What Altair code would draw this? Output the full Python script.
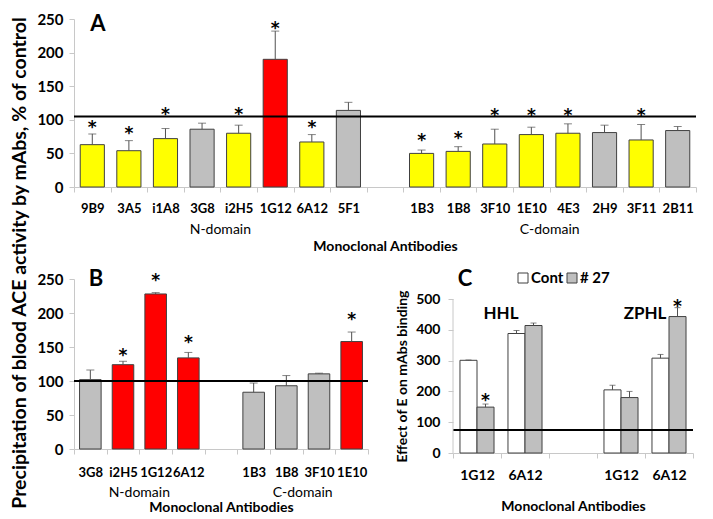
import altair as alt
import pandas as pd

FONT = "Lato"
STAR_FONT = "DejaVu Sans"
AXIS_GREY = "#C8C8C8"
BAR_STROKE = "#404040"

# ---------------- Panel A data ----------------
a_names = ["9B9", "3A5", "i1A8", "3G8", "i2H5", "1G12", "6A12", "5F1",
           "1B3", "1B8", "3F10", "1E10", "4E3", "2H9", "3F11", "2B11"]
a_values = [63, 54, 72, 86, 80, 190, 67, 114, 50, 53, 64, 78, 80, 81, 70, 84]
a_upper = [79, 69, 87, 95, 92, 232, 78, 126, 55, 60, 86, 89, 94, 92, 93, 90]
a_fill = ["Y", "Y", "Y", "G", "Y", "R", "Y", "G", "Y", "Y", "Y", "Y", "Y", "G", "Y", "G"]
a_star = [96, 88, 116, None, 116, 244, 96, None, 77, 80, 115, 115, 115, None, 115, None]
a_ref = 105
a_groups = ["N-domain", "C-domain"]
a_group_anchor = ["i2H5", "4E3"]

# ---------------- Panel B data ----------------
b_names = ["3G8", "i2H5", "1G12", "6A12", "1B3", "1B8", "3F10", "1E10"]
b_values = [102, 124, 228, 134, 83.5, 93, 110.5, 158]
b_upper = [116, 129, 230, 142, 97, 108, 111.5, 172]
b_fill = ["G", "R", "R", "R", "G", "G", "G", "R"]
b_star = [None, 145, 256, 165, None, None, None, 199]
b_ref = 100
b_groups = ["N-domain", "C-domain"]
b_group_anchor = ["1G12", "3F10"]

# ---------------- Panel C data ----------------
c_substrate = ["HHL", "ZPHL"]
c_mabs = ["1G12", "6A12"]
c_series = ["Cont", "# 27"]
c_cont = [301, 388, 205, 308]
c_cont_upper = [302, 398, 220, 320]
c_27 = [149, 414, 180, 443]
c_27_upper = [159, 422, 200, 472]
c_27_star = [187, None, None, 492]
c_ref = 75
c_series_colors = ["#FFFFFF", "#BFBFBF"]

fill_map = {"Y": "#FFFF00", "G": "#BFBFBF", "R": "#FF0000"}

LABEL_EXPR = "datum.value == 'gap' ? '' : datum.value"


def bar_panel(names, values, upper, fills, stars, ref, groups, anchors,
              n_left, width, height, letter, letter_xy, group_dy, label_pad, title_pad):
    dom = names[:n_left] + ["gap"] + names[n_left:]
    df = pd.DataFrame({"name": names, "value": values, "upper": upper,
                       "fill": [fill_map[f] for f in fills]})
    sdf = pd.DataFrame({"name": names, "star": stars}).dropna()
    gdf = pd.DataFrame({"name": anchors, "text": groups})
    xs = alt.Scale(domain=dom, paddingInner=0, paddingOuter=0)
    ys = alt.Scale(domain=[0, 250])
    xaxis = alt.Axis(labelExpr=LABEL_EXPR, labelAngle=0, tickBand="extent",
                     domainColor=AXIS_GREY, tickColor=AXIS_GREY, tickSize=5,
                     labelFont=FONT, labelFontSize=13, labelFontWeight="bold",
                     labelPadding=label_pad, labelOverlap=False, titleFont=FONT,
                     titleFontSize=14, titleFontWeight="bold", titlePadding=title_pad)
    yaxis = alt.Axis(values=[0, 50, 100, 150, 200, 250], grid=False,
                     domainColor=AXIS_GREY, tickColor=AXIS_GREY, tickSize=5,
                     labelFont=FONT, labelFontSize=15, labelFontWeight="bold",
                     labelPadding=6)
    XT = "Monoclonal Antibodies"

    def X(**kw):
        return alt.X("name:N", scale=xs, sort=dom, title=XT, axis=xaxis, **kw)

    def Y(field):
        return alt.Y(field, scale=ys, title=None, axis=yaxis)

    base = alt.Chart(df)
    bars = base.mark_bar(stroke=BAR_STROKE, strokeWidth=1,
                         width=alt.RelativeBandSize(0.66)).encode(
        x=X(), y=Y("value:Q"), fill=alt.Fill("fill:N", scale=None))
    err = base.mark_rule(color="#505050", strokeWidth=1).encode(
        x=X(), y=Y("value:Q"), y2="upper:Q")
    cap = base.mark_tick(color="#505050", thickness=1, size=8, orient="horizontal").encode(
        x=X(), y=Y("upper:Q"))
    star = alt.Chart(sdf).mark_text(text="*", font=STAR_FONT, fontSize=17, fontWeight="bold",
                                    baseline="alphabetic", dy=11, color="black").encode(
        x=X(), y=Y("star:Q"))
    refl = alt.Chart(pd.DataFrame({"ref": [ref]})).mark_rule(color="black", strokeWidth=2).encode(
        y=Y("ref:Q"))
    grp = alt.Chart(gdf).mark_text(font=FONT, fontSize=14, fontWeight="normal",
                                   baseline="middle", color="black").encode(
        x=X(bandPosition=0), y=alt.value(height + group_dy), text="text:N")
    let = alt.Chart(pd.DataFrame({"t": [letter]})).mark_text(
        font=FONT, fontSize=22, fontWeight="bold", baseline="middle", color="black").encode(
        x=alt.value(letter_xy[0]), y=alt.value(letter_xy[1]), text="t:N")
    return alt.layer(bars, err, cap, star, refl, grp, let).properties(width=width, height=height)


panelA = bar_panel(a_names, a_values, a_upper, a_fill, a_star, a_ref, a_groups,
                   a_group_anchor, 8, 622, 168, "A", (24, 5), 43, 10, 24)
panelB = bar_panel(b_names, b_values, b_upper, b_fill, b_star, b_ref, b_groups,
                   b_group_anchor, 4, 294, 170, "B", (22, 0), 44, 12, 21)

# ---------------- Panel C ----------------
# category keys: the second substrate group gets a trailing space so keys stay unique
keys = c_mabs + [m + " " for m in c_mabs]
c_dom = keys[:2] + ["gap"] + keys[2:]
rows = []
for i, k in enumerate(keys):
    rows.append({"key": k, "series": c_series[0], "value": c_cont[i], "upper": c_cont_upper[i]})
    rows.append({"key": k, "series": c_series[1], "value": c_27[i], "upper": c_27_upper[i]})
cdf = pd.DataFrame(rows)
star_rows = [{"key": k, "series": c_series[1], "star": s} for k, s in zip(keys, c_27_star) if s is not None]
cstar_df = pd.DataFrame(star_rows)

C_H = 174            # plot height incl. headroom above 500 for the legend
C_TOP = 565          # value at the top edge of that plot
c_xs = alt.Scale(domain=c_dom, paddingInner=0, paddingOuter=0)
c_ys = alt.Scale(domain=[0, C_TOP], nice=False)
c_fill_scale = alt.Scale(domain=c_series, range=c_series_colors)
c_off = alt.XOffset("series:N", sort=c_series,
                    scale=alt.Scale(domain=c_series, paddingInner=0, paddingOuter=0.41))
c_xaxis = alt.Axis(labelExpr=LABEL_EXPR, labelAngle=0, tickBand="extent",
                   domainColor=AXIS_GREY, tickColor=AXIS_GREY, tickSize=5,
                   labelFont=FONT, labelFontSize=14, labelFontWeight="bold",
                   labelPadding=10, labelOverlap=False, titleFont=FONT,
                   titleFontSize=14, titleFontWeight="bold", titlePadding=17)
c_yaxis = alt.Axis(values=[0, 100, 200, 300, 400, 500], grid=False, domain=False,
                   tickColor=AXIS_GREY, tickSize=5,
                   labelFont=FONT, labelFontSize=14, labelFontWeight="bold",
                   labelPadding=8, titleFont=FONT, titleFontSize=14,
                   titleFontWeight="bold", titlePadding=6,
                   titleY=C_H * (1 - 250 / C_TOP))
C_XT = "Monoclonal Antibodies"
C_YT = "Effect of E on mAbs binding"


def CX(**kw):
    return alt.X("key:N", scale=c_xs, sort=c_dom, title=C_XT, axis=c_xaxis, **kw)


def CY(field):
    return alt.Y(field, scale=c_ys, title=C_YT, axis=c_yaxis)


cbase = alt.Chart(cdf)
cbars = cbase.mark_bar(stroke=BAR_STROKE, strokeWidth=1).encode(
    x=CX(), xOffset=c_off, y=CY("value:Q"),
    fill=alt.Fill("series:N", sort=c_series, scale=c_fill_scale, legend=None))
cerr = cbase.mark_rule(color="#505050", strokeWidth=1).encode(
    x=CX(), xOffset=c_off, y=CY("value:Q"), y2="upper:Q")
ccap = cbase.mark_tick(color="#505050", thickness=1, size=6, orient="horizontal").encode(
    x=CX(), xOffset=c_off, y=CY("upper:Q"))
cstar = alt.Chart(cstar_df).mark_text(
    text="*", font=STAR_FONT, fontSize=17, fontWeight="bold", baseline="alphabetic", dy=11,
    color="black").encode(x=CX(), xOffset=c_off, y=CY("star:Q"))
cref = alt.Chart(pd.DataFrame({"ref": [c_ref]})).mark_rule(color="black", strokeWidth=2).encode(
    y=CY("ref:Q"))
caxis_line = alt.Chart(pd.DataFrame({"lo": [0], "hi": [500]})).mark_rule(
    color=AXIS_GREY, strokeWidth=1).encode(x=alt.value(0), y=CY("lo:Q"), y2="hi:Q")
sub_df = pd.DataFrame({"key": [keys[1], keys[3]], "text": c_substrate, "ty": [452, 452]})
csub = alt.Chart(sub_df).mark_text(font=FONT, fontSize=17, fontWeight="bold",
                                   baseline="middle", dx=0, color="black").encode(
    x=CX(bandPosition=0), y=CY("ty:Q"), text="text:N")
clet = alt.Chart(pd.DataFrame({"t": ["C"]})).mark_text(
    font=FONT, fontSize=22, fontWeight="bold", baseline="middle", color="black").encode(
    x=alt.value(12), y=alt.value(0), text="t:N")

# legend items drawn inside panel C, coloured through the same fill scale
leg_df = pd.DataFrame({"series": c_series})
legend_layers = []
for s, px in zip(c_series, [70, 119]):
    sub = alt.Chart(leg_df).transform_filter(alt.datum.series == s)
    legend_layers.append(sub.mark_square(size=100, stroke=BAR_STROKE, strokeWidth=1,
                                         opacity=1).encode(
        x=alt.value(px), y=alt.value(-1),
        fill=alt.Fill("series:N", sort=c_series, scale=c_fill_scale, legend=None)))
    legend_layers.append(sub.mark_text(font=FONT, fontSize=15, fontWeight="bold",
                                       align="left", baseline="middle", dx=8,
                                       color="black").encode(
        x=alt.value(px), y=alt.value(-1), text="series:N"))

panelC = alt.layer(cbars, cerr, ccap, cstar, cref, caxis_line, csub, clet,
                   *legend_layers).properties(width=240, height=C_H)

bottom = alt.hconcat(panelB, panelC, spacing=26)
chart = alt.vconcat(panelA, bottom, spacing=15).properties(
    title=alt.TitleParams("Precipitation of blood ACE activity by mAbs, % of control",
                          orient="left", anchor="middle", font=FONT, fontSize=19.5,
                          fontWeight="bold", offset=6, color="black"),
    padding={"left": 2, "top": 4, "right": 2, "bottom": 0},
).configure_view(stroke=None)

chart.save("out.html", embed_options={"renderer": "svg", "actions": False})
